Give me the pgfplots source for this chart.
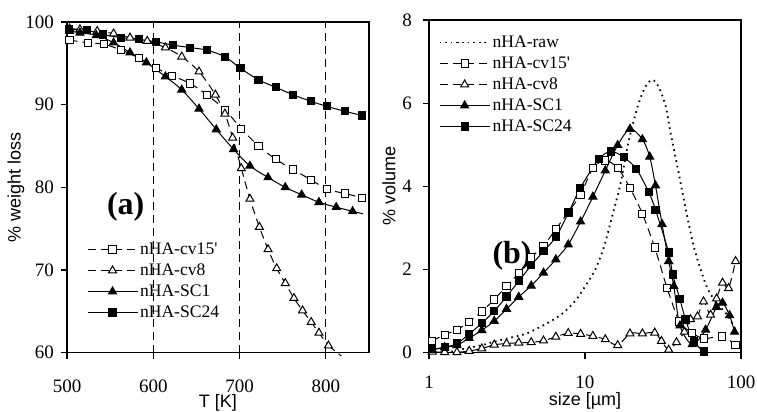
\documentclass[border=0pt]{standalone}
\usepackage{fontspec}
\setmainfont{Liberation Serif}
\setsansfont{Liberation Sans}
\usepackage{pgfplots}
\pgfplotsset{compat=1.18}

\tikzset{
  dsh/.style={dash pattern=on 4pt off 2.5pt},
  dot/.style={line width=0.9pt, dash pattern=on 0.8pt off 2pt},
  sq/.style={mark=square*, mark options={solid, fill=white, line width=0.5pt}, mark size=1.8pt},
  sqf/.style={mark=square*, mark options={solid, fill=black}, mark size=1.8pt},
  tr/.style={mark=triangle*, mark options={solid, fill=white, line width=0.5pt}, mark size=2.3pt},
  trf/.style={mark=triangle*, mark options={solid, fill=black}, mark size=2.3pt},
}
\pgfplotsset{
  panel/.style={
    scale only axis,
    axis line style={line width=0.8pt},
    tick style={line width=0.6pt, black},
    major tick length=3pt,
    tick align=outside,
    xtick pos=bottom, ytick pos=left,
    ticklabel style={font=\fontsize{9.5}{11}\selectfont},
    /pgf/number format/assume math mode=true,
    label style={font=\sffamily\fontsize{9}{10}\selectfont},
    legend cell align=left,
    legend style={draw=none, fill=none, anchor=north west, inner sep=0pt, row sep=0pt,
      font=\fontsize{8.8}{10}\selectfont,
      nodes={inner sep=1pt, text height=6.5pt, text depth=2pt}},
    legend image code/.code={\draw[mark repeat=2,mark phase=2,##1] plot coordinates {(0pt,0pt) (12.5pt,0pt) (25pt,0pt)};},
    every axis plot/.append style={line width=0.5pt, black, smooth, tension=0.5},
  },
}

\begin{document}
\begin{tikzpicture}
\useasboundingbox (0,0) rectangle (378.5pt,206pt);

% (a) thermogravimetry
\begin{axis}[panel,
  at={(33.5pt,29.65pt)}, anchor=south west,
  width=151pt, height=165.35pt,
  xmin=500, xmax=850, ymin=60, ymax=100,
  xtick={500,600,700,800}, ytick={60,70,80,90,100},
  xticklabel style={yshift=-7pt},
  xlabel={T [K]}, ylabel={\% weight loss},
  xlabel style={at={(axis description cs:0.5,-0.152)}, anchor=center},
  ylabel style={at={(axis description cs:-0.169,0.5)}, anchor=center},
  clip=false,
  legend style={at={(0.065,0.345)}},
]
\draw[line width=0.5pt, dsh] (axis cs:600,60) -- (axis cs:600,100);
\draw[line width=0.5pt, dsh] (axis cs:700,60) -- (axis cs:700,100);
\draw[line width=0.5pt, dsh] (axis cs:800,60) -- (axis cs:800,100);

\addplot[dsh, sq] coordinates {(503,97.8)(524,97.5)(543,97.3)(563,96.6)(583,95.65)(603,94.45)(622,93.5)(643,92.55)(662,91.2)(683,89.4)(702,87.1)(722,85.0)(742,83.4)(762,82.15)(783,80.9)(801,79.8)(822,79.25)(842,78.75)};
\addlegendentry{nHA-cv15\textquotesingle}
\addplot[dsh, tr] coordinates {(503,99.2)(515,99.1)(535,98.9)(554,98.6)(573,98.1)(593,97.7)(614,96.9)(633,95.8)(653,94.0)(672,91.2)(683,88.9)(692,86.0)(702,82.3)(712,78.6)(723,75.2)(733,72.5)(743,70.2)(753,68.4)(763,66.6)(773,65.1)(783,63.7)(792,62.4)(803,60.85)};
\addlegendentry{nHA-cv8}
\addplot[trf] coordinates {(503,98.9)(515,98.7)(534,98.4)(554,97.5)(573,96.3)(592,95.1)(614,93.4)(633,91.8)(653,89.5)(673,87.0)(693,84.6)(712,82.6)(733,81.2)(753,80.0)(772,79.1)(792,78.2)(812,77.6)(831,77.1)};
\addlegendentry{nHA-SC1}
\addplot[sqf] coordinates {(502,99.1)(523,99.0)(542,98.5)(563,98.1)(583,97.9)(603,97.6)(623,97.2)(643,96.9)(662,96.6)(683,95.8)(701,94.4)(722,93.0)(742,92.1)(762,91.2)(783,90.4)(801,89.8)(822,89.2)(842,88.7)};
\addlegendentry{nHA-SC24}
\addplot[dsh, forget plot] coordinates {(803,60.85)(818,59.6)};
\addplot[forget plot] coordinates {(831,77.1)(843,76.8)};
\node[font=\bfseries\fontsize{16}{18}\selectfont] at (axis cs:568,77.6) {(a)};
\end{axis}

% (b) particle size distribution
\begin{axis}[panel,
  at={(214.5pt,29.65pt)}, anchor=south west,
  width=156pt, height=166.35pt,
  xmode=log, xmin=1, xmax=100, ymin=0, ymax=8,
  xtick={1,10,100}, xticklabels={1,10,100}, xminorticks=false,
  ytick={0,2,4,6,8},
  xticklabel style={yshift=-5.3pt},
  yticklabel style={xshift=-2pt},
  xlabel={size [µm]}, ylabel={\% volume},
  xlabel style={at={(axis description cs:0.5,-0.145)}, anchor=center},
  ylabel style={at={(axis description cs:-0.128,0.5)}, anchor=center},
  legend style={at={(0.03,0.965)}},
]
\addplot[dot] coordinates {(1.0,0.01)(1.364,0.02)(1.703,0.1)(2.126,0.17)(2.654,0.27)(3.313,0.36)(4.136,0.45)(5.164,0.62)(6.447,0.82)(7.472,1.0)(8.664,1.25)(10.04,1.6)(11.64,2.0)(13.11,2.5)(14.75,3.2)(16.86,4.05)(18.97,5.05)(21.68,5.9)(24.40,6.4)(27.05,6.56)(29.57,6.4)(32.79,5.95)(35.31,5.3)(39.73,4.35)(43.43,3.6)(47.47,2.9)(51.09,2.4)(60.11,1.6)(69.70,1.2)(82.02,0.9)(92.33,0.55)};
\addlegendentry{nHA-raw}
\addplot[dsh, sq] coordinates {(1.05,0.29)(1.26,0.43)(1.51,0.55)(1.81,0.74)(2.18,0.99)(2.62,1.28)(3.14,1.60)(3.76,1.92)(4.52,2.29)(5.42,2.57)(6.50,2.97)(7.81,3.38)(9.37,3.80)(11.24,4.44)(13.50,4.62)(16.20,4.44)(19.43,3.96)(23.33,3.34)(27.99,2.53)(33.57,1.56)(40.34,0.75)(48.4,0.48)(58.0,0.34)(75.8,0.39)(92.3,0.19)};
\addlegendentry{nHA-cv15\textquotesingle}
\addplot[dsh, tr] coordinates {(1.05,0.02)(1.26,0.01)(1.51,0.01)(1.81,0.04)(2.18,0.10)(2.62,0.19)(3.14,0.22)(3.76,0.24)(4.52,0.25)(5.42,0.29)(6.50,0.38)(7.81,0.47)(9.37,0.45)(11.24,0.40)(13.50,0.32)(16.20,0.18)(19.43,0.46)(23.33,0.46)(27.99,0.48)(30.9,0.28)(34.4,0.07)(38.6,0.25)(43.4,0.5)(47.5,0.8)(52.6,0.87)(57.5,1.23)(63.8,0.91)(69.7,1.3)(76.2,1.68)(83.2,1.55)(92.3,2.2)};
\addlegendentry{nHA-cv8}
\addplot[trf] coordinates {(1.05,0.07)(1.26,0.13)(1.51,0.18)(1.81,0.35)(2.18,0.54)(2.62,0.76)(3.14,1.05)(3.76,1.34)(4.52,1.61)(5.42,1.92)(6.50,2.24)(7.81,2.60)(9.37,3.15)(11.24,3.75)(13.50,4.38)(16.20,4.99)(19.43,5.38)(23.33,5.13)(26.0,4.71)(28.3,4.02)(31.2,3.09)(34.4,2.20)(37.1,1.6)(40.6,0.65)(48.7,0.2)(59.3,0.55)(69.7,1.1)(76.2,1.2)(84.5,0.9)(90.9,0.5)};
\addlegendentry{nHA-SC1}
\addplot[sqf] coordinates {(1.05,0.08)(1.26,0.13)(1.51,0.22)(1.81,0.45)(2.18,0.71)(2.62,1.0)(3.14,1.35)(3.76,1.72)(4.52,2.10)(5.42,2.44)(6.50,2.78)(7.85,3.37)(9.33,3.96)(12.23,4.65)(14.69,4.84)(17.70,4.70)(21.35,4.42)(25.62,3.86)(28.29,3.44)(34.4,2.41)(36.5,1.88)(40.5,1.30)(44.1,0.80)(49.8,0.27)(57.8,0.03)};
\addlegendentry{nHA-SC24}
\node[font=\bfseries\fontsize{16}{18}\selectfont] at (axis cs:3.41,2.32) {(b)};
\end{axis}
\end{tikzpicture}
\end{document}
